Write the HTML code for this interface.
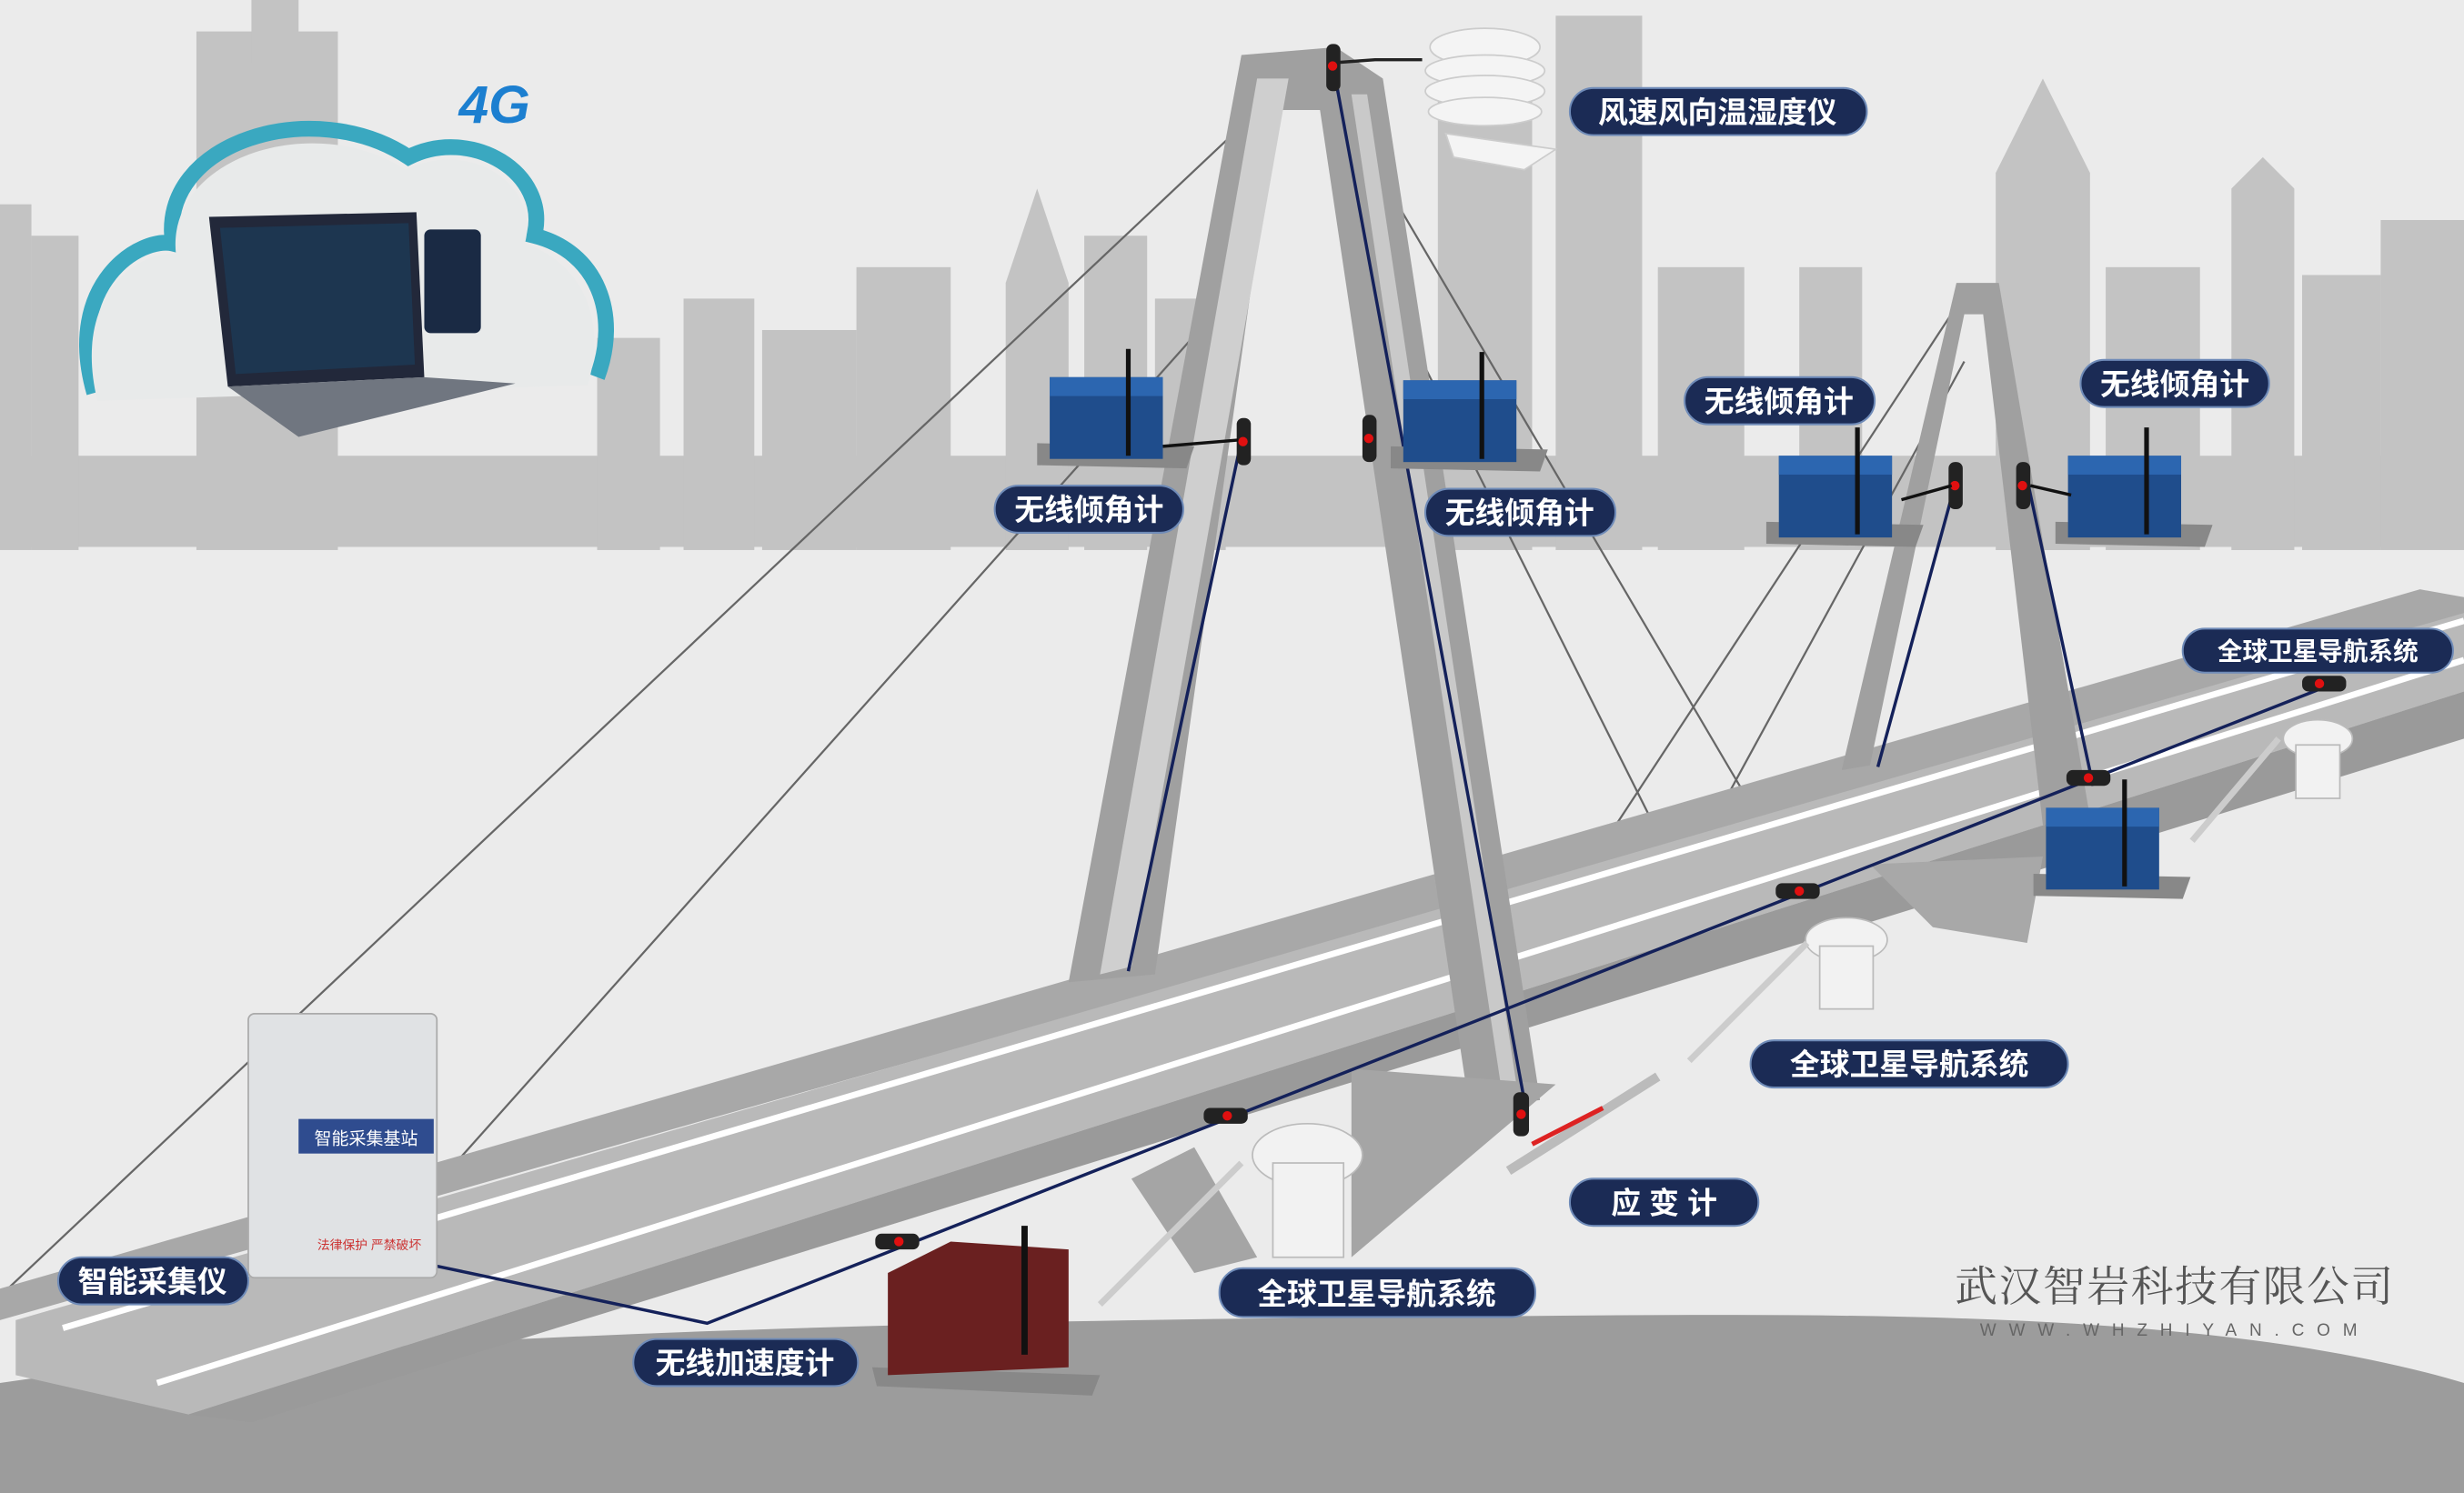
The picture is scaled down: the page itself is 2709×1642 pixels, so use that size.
<!DOCTYPE html>
<html><head><meta charset="utf-8"><style>
html,body{margin:0;padding:0;background:#ececec}
svg{display:block}
text{font-family:"Liberation Sans","Noto Sans CJK SC",sans-serif;font-weight:bold}
text.co{font-family:"Liberation Serif","Noto Serif CJK SC",serif;font-weight:normal}
text.url{font-weight:normal}
</style></head><body>
<svg width="2709" height="1642" viewBox="0 0 1568 950" preserveAspectRatio="none" xmlns="http://www.w3.org/2000/svg">
<rect width="1568" height="950" fill="#ebebeb"/>
<!-- skyline -->
<g fill="#c3c3c3">
<rect x="0" y="290" width="1568" height="58"/>
<rect x="0" y="130" width="20" height="220"/><rect x="20" y="150" width="30" height="200"/>
<rect x="125" y="20" width="90" height="330"/><rect x="160" y="0" width="30" height="40"/>
<rect x="380" y="215" width="40" height="135"/><rect x="435" y="190" width="45" height="160"/>
<rect x="485" y="210" width="60" height="140"/><rect x="545" y="170" width="60" height="180"/>
<polygon points="640,350 640,180 660,120 680,180 680,350"/>
<rect x="690" y="150" width="40" height="200"/><rect x="735" y="190" width="45" height="160"/>
<rect x="915" y="45" width="60" height="305"/><rect x="990" y="10" width="55" height="340"/>
<rect x="1055" y="170" width="55" height="180"/><rect x="1145" y="170" width="40" height="180"/>
<polygon points="1270,350 1270,110 1300,50 1330,110 1330,350"/>
<rect x="1340" y="170" width="60" height="180"/>
<polygon points="1420,350 1420,120 1440,100 1460,120 1460,350"/>
<rect x="1465" y="175" width="50" height="175"/><rect x="1515" y="140" width="53" height="210"/>
</g>
<!-- cloud -->
<g fill="none" stroke="#3aa8c0" stroke-width="10">
<path d="M60,250 C40,180 90,150 110,155 C100,90 200,60 260,100 C300,80 350,110 340,150 C380,160 395,200 380,240"/>
</g>
<path d="M62,255 C45,185 92,158 112,162 C105,100 200,70 258,108 C300,88 344,118 334,155 C372,168 386,205 374,245 Z" fill="#e8eaea"/>
<text x="292" y="78" font-size="34" font-style="italic" fill="#1c7fd0">4G</text>
<!-- laptop -->
<polygon points="133,138 265,135 270,240 145,246" fill="#22283a"/>
<polygon points="140,145 260,142 264,232 150,238" fill="#1d3650"/>
<polygon points="145,246 270,240 328,244 190,278" fill="#707680"/>
<rect x="270" y="146" width="36" height="66" rx="4" fill="#1a2a44"/>
<!-- ground -->
<path d="M0,950 L0,880 C200,850 600,840 900,838 C1150,836 1400,830 1568,880 L1568,950 Z" fill="#9c9c9c"/>
<!-- cables -->
<g stroke="#666" stroke-width="1.3" fill="none">
<line x1="785" y1="85" x2="5" y2="820"/><line x1="790" y1="180" x2="290" y2="740"/>
<line x1="860" y1="80" x2="1110" y2="505"/><line x1="865" y1="150" x2="1050" y2="520"/>
<line x1="1245" y1="195" x2="1025" y2="530"/><line x1="1250" y1="230" x2="1100" y2="505"/>
</g>
<!-- bridge deck -->
<polygon points="0,820 1540,375 1568,380 1568,395 0,840" fill="#a8a8a8"/>
<polygon points="10,840 1568,390 1568,440 120,900 10,875" fill="#b9b9b9"/>
<polygon points="120,900 1568,440 1568,470 160,905" fill="#9a9a9a"/>
<g stroke="#fff" stroke-width="4" fill="none">
<line x1="100" y1="880" x2="1568" y2="420"/><line x1="40" y1="845" x2="1568" y2="395"/>
</g>
<!-- left tower -->
<polygon points="680,625 790,35 850,30 880,50 980,700 935,705 840,70 812,70 735,620" fill="#a0a0a0"/>
<polygon points="700,620 800,50 820,50 720,615" fill="#cfcfcf"/>
<polygon points="860,60 870,60 965,690 955,690" fill="#c9c9c9"/>
<polygon points="720,750 760,730 800,800 760,810" fill="#a5a5a5"/>
<polygon points="860,680 990,690 860,800" fill="#a5a5a5"/>
<!-- right tower -->
<polygon points="1172,490 1245,180 1272,180 1330,520 1300,525 1262,200 1250,200 1190,487" fill="#a0a0a0"/>
<polygon points="1190,550 1300,545 1290,600 1230,590" fill="#a8a8a8"/>
<!-- wires -->
<g stroke="#14215a" stroke-width="2" fill="none">
<polyline points="275,805 450,842 1480,437"/>
<line x1="848" y1="40" x2="970" y2="700"/><line x1="790" y1="280" x2="718" y2="618"/>
<line x1="1245" y1="305" x2="1195" y2="488"/><line x1="1290" y1="305" x2="1332" y2="500"/>
<polyline points="848,40 875,38 905,38" stroke="#222"/>
</g>
<!-- sensor dots -->
<g>
<g fill="#222"><rect x="844" y="28" width="9" height="30" rx="4"/><rect x="787" y="266" width="9" height="30" rx="4"/><rect x="867" y="264" width="9" height="30" rx="4"/><rect x="1240" y="294" width="9" height="30" rx="4"/><rect x="1283" y="294" width="9" height="30" rx="4"/>
<rect x="1465" y="430" width="28" height="10" rx="4"/><rect x="1130" y="562" width="28" height="10" rx="4"/><rect x="1315" y="490" width="28" height="10" rx="4"/><rect x="766" y="705" width="28" height="10" rx="4"/><rect x="557" y="785" width="28" height="10" rx="4"/><rect x="963" y="695" width="10" height="28" rx="4"/></g>
<g fill="#e01010"><circle cx="848" cy="42" r="3"/><circle cx="791" cy="281" r="3"/><circle cx="871" cy="279" r="3"/><circle cx="1244" cy="309" r="3"/><circle cx="1287" cy="309" r="3"/><circle cx="1476" cy="435" r="3"/><circle cx="1145" cy="567" r="3"/><circle cx="1329" cy="495" r="3"/><circle cx="781" cy="710" r="3"/><circle cx="572" cy="790" r="3"/><circle cx="968" cy="709" r="3"/></g>
</g>
<!-- weather instrument -->
<g fill="#f4f4f4" stroke="#ccc"><ellipse cx="945" cy="30" rx="35" ry="12"/><ellipse cx="945" cy="45" rx="38" ry="10"/><ellipse cx="945" cy="58" rx="38" ry="10"/><ellipse cx="945" cy="71" rx="36" ry="9"/><polygon points="920,85 990,95 970,108 925,100"/></g>
<!-- blue devices -->
<g id="dev">
<polygon points="660,282 760,284 755,298 660,296" fill="#888"/>
<rect x="668" y="240" width="72" height="52" fill="#1f4d8c"/><rect x="668" y="240" width="72" height="12" fill="#2c66b0"/>
<line x1="718" y1="222" x2="718" y2="290" stroke="#111" stroke-width="3"/>
</g>
<use href="#dev" x="225" y="2"/><use href="#dev" x="464" y="50"/><use href="#dev" x="648" y="50"/><use href="#dev" x="634" y="274"/>
<line x1="740" y1="284" x2="788" y2="280" stroke="#111" stroke-width="2"/>
<line x1="1210" y1="318" x2="1242" y2="309" stroke="#111" stroke-width="2"/>
<line x1="1292" y1="309" x2="1318" y2="315" stroke="#111" stroke-width="2"/>
<!-- GNSS antennas -->
<g fill="#f2f2f2" stroke="#bbb">
<ellipse cx="832" cy="735" rx="35" ry="20"/><rect x="810" y="740" width="45" height="60"/>
<ellipse cx="1175" cy="598" rx="26" ry="14"/><rect x="1158" y="602" width="34" height="40"/>
<ellipse cx="1475" cy="470" rx="22" ry="12"/><rect x="1461" y="474" width="28" height="34"/>
</g>
<g stroke="#ccc" stroke-width="4"><line x1="790" y1="740" x2="700" y2="830"/><line x1="1150" y1="600" x2="1075" y2="675"/><line x1="1450" y1="470" x2="1395" y2="535"/></g>
<!-- strain gauge -->
<line x1="960" y1="745" x2="1055" y2="685" stroke="#bbb" stroke-width="6"/>
<line x1="975" y1="728" x2="1020" y2="705" stroke="#d22" stroke-width="3"/>
<!-- collector box -->
<rect x="158" y="645" width="120" height="168" rx="4" fill="#e0e2e4" stroke="#aaa"/>
<rect x="190" y="712" width="86" height="22" fill="#2f4c8f"/>
<text x="233" y="728" font-size="11" fill="#fff" text-anchor="middle" class="url">智能采集基站</text>
<text x="235" y="795" font-size="8" fill="#c33" text-anchor="middle" class="url">法律保护 严禁破坏</text>
<!-- red accelerometer -->
<polygon points="555,870 700,875 695,888 558,882" fill="#888"/>
<polygon points="565,810 605,790 680,795 680,870 565,875" fill="#6a2020"/>
<line x1="652" y1="780" x2="652" y2="862" stroke="#111" stroke-width="4"/>
<!-- labels -->
<g font-size="19">
<g fill="#1b2b55" stroke="#6f8bb8" stroke-width="1.2">
<rect x="999" y="56" width="189" height="30" rx="15"/>
<rect x="633" y="309" width="120" height="30" rx="15"/>
<rect x="907" y="311" width="121" height="30" rx="15"/>
<rect x="1072" y="240" width="121" height="30" rx="15"/>
<rect x="1324" y="229" width="120" height="30" rx="15"/>
<rect x="1389" y="400" width="172" height="28" rx="14"/>
<rect x="1114" y="662" width="202" height="30" rx="15"/>
<rect x="999" y="750" width="120" height="30" rx="15"/>
<rect x="776" y="807" width="201" height="31" rx="15"/>
<rect x="37" y="800" width="121" height="30" rx="15"/>
<rect x="403" y="852" width="143" height="30" rx="15"/>
</g>
<g fill="#fff" text-anchor="middle">
<text x="1093" y="78">风速风向温湿度仪</text>
<text x="693" y="331">无线倾角计</text>
<text x="967" y="333">无线倾角计</text>
<text x="1132" y="262">无线倾角计</text>
<text x="1384" y="251">无线倾角计</text>
<text x="1475" y="420" font-size="16">全球卫星导航系统</text>
<text x="1215" y="684">全球卫星导航系统</text>
<text x="1059" y="772">应 变 计</text>
<text x="876" y="830">全球卫星导航系统</text>
<text x="97" y="822">智能采集仪</text>
<text x="474" y="874">无线加速度计</text>
</g>
</g>
<text class="co" x="1384" y="828" font-size="27" fill="#555" text-anchor="middle" letter-spacing="1">武汉智岩科技有限公司</text>
<text class="url" x="1384" y="850" font-size="11" fill="#666" text-anchor="middle" letter-spacing="8">WWW.WHZHIYAN.COM</text>
</svg>
</body></html>
